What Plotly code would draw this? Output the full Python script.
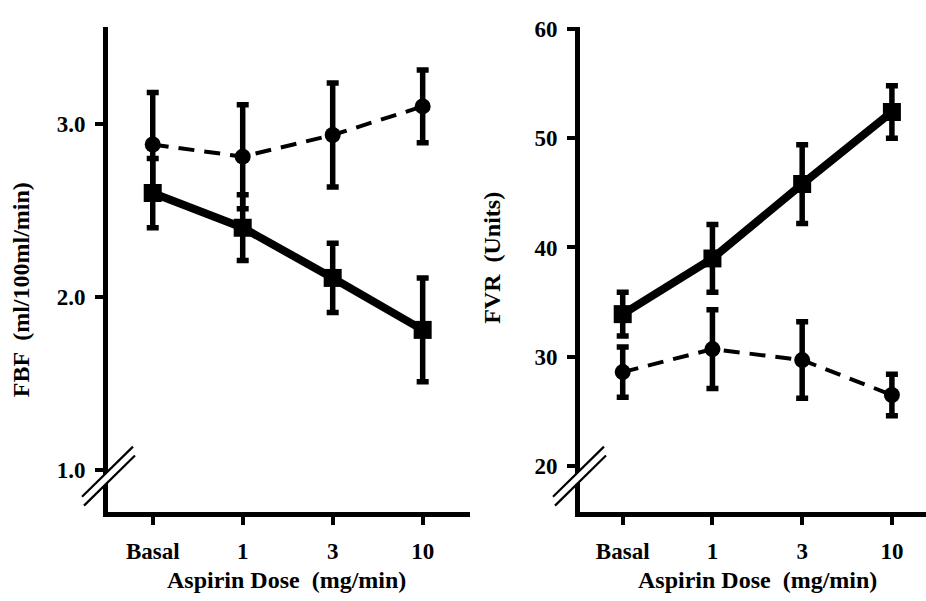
import plotly.graph_objects as go

W, H = 926, 601

categories = ["Basal", "1", "3", "10"]

# Left panel: FBF (ml/100ml/min)
fbf_solid = [2.60, 2.40, 2.11, 1.81]
fbf_solid_err = [0.20, 0.19, 0.20, 0.30]
fbf_dash = [2.88, 2.81, 2.935, 3.10]
fbf_dash_err = [0.30, 0.30, 0.30, 0.21]

# Right panel: FVR (Units)
fvr_solid = [33.9, 39.0, 45.8, 52.4]
fvr_solid_err = [2.0, 3.1, 3.6, 2.4]
fvr_dash = [28.6, 30.7, 29.7, 26.5]
fvr_dash_err = [2.3, 3.6, 3.5, 1.9]

left_ticks = [1.0, 2.0, 3.0]
left_ticktext = ["1.0", "2.0", "3.0"]
right_ticks = [20, 30, 40, 50, 60]

FONT = "Liberation Serif"
xs = list(range(len(categories)))


def px(x, y):
    return x / W, 1 - y / H


def add_series(fig, y, err, dash, xa, ya):
    if dash:
        line = dict(color="black", width=4, dash="16px,10px")
        marker = dict(symbol="circle", size=16, color="black")
    else:
        line = dict(color="black", width=8)
        marker = dict(symbol="square", size=18, color="black")
    fig.add_trace(go.Scatter(
        x=xs, y=y, mode="lines+markers", line=line, marker=marker,
        error_y=dict(type="data", array=err, visible=True, color="black",
                     thickness=5.5, width=6),
        xaxis=xa, yaxis=ya, showlegend=False, hoverinfo="skip"))


fig = go.Figure()
add_series(fig, fbf_dash, fbf_dash_err, True, "x", "y")
add_series(fig, fbf_solid, fbf_solid_err, False, "x", "y")
add_series(fig, fvr_dash, fvr_dash_err, True, "x2", "y2")
add_series(fig, fvr_solid, fvr_solid_err, False, "x2", "y2")

ydom = [(H - 511) / H, (H - 17) / H]
tickfont = dict(family=FONT, size=23, color="black", weight="bold")
axcommon = dict(showline=True, linecolor="black", linewidth=5, ticks="outside",
                ticklen=8, tickwidth=4, tickcolor="black", showgrid=False,
                zeroline=False, tickfont=tickfont)

fig.update_layout(
    width=W, height=H, margin=dict(l=0, r=0, t=0, b=0),
    paper_bgcolor="white", plot_bgcolor="white",
    xaxis=dict(domain=[108 / W, 470 / W], range=[-0.497, 3.526],
               tickvals=xs, ticktext=categories, anchor="y",
               ticklabelstandoff=6, **axcommon),
    yaxis=dict(domain=ydom, range=[0.756, 3.56], tickvals=left_ticks,
               ticktext=left_ticktext, anchor="x", ticklabelstandoff=5, **axcommon),
    xaxis2=dict(domain=[580 / W, 1.0], range=[-0.476, 3.38],
                tickvals=xs, ticktext=categories, anchor="y2",
                ticklabelstandoff=6, **axcommon),
    yaxis2=dict(domain=ydom, range=[15.75, 60.2], tickvals=right_ticks,
                anchor="x2", ticklabelstandoff=5, **axcommon),
)

titlefont = dict(family=FONT, size=24, color="black", weight="bold")
for (x, y, text, angle) in [
    (286, 580, "Aspirin Dose  (mg/min)", 0),
    (757, 580, "Aspirin Dose  (mg/min)", 0),
    (21, 285, "FBF  (ml/100ml/min)", -90),
    (492, 252, "FVR  (Units)", -90),
]:
    px_, py_ = px(x, y)
    fig.add_annotation(x=px_, y=py_, xref="paper", yref="paper", text=text,
                       showarrow=False, textangle=angle, font=titlefont,
                       xanchor="center", yanchor="middle")

# axis break marks
for ax in (106, 577):
    u0 = px(ax - 24, 495); u1 = px(ax + 27, 444)
    l0 = px(ax - 22, 504); l1 = px(ax + 29, 453)
    path = "M {} {} L {} {} L {} {} L {} {} Z".format(u0[0], u0[1], u1[0], u1[1], l1[0], l1[1], l0[0], l0[1])
    fig.add_shape(type="path", path=path, xref="paper", yref="paper",
                  fillcolor="white", line=dict(width=0), layer="above")
    for a, b in ((u0, u1), (l0, l1)):
        fig.add_shape(type="line", x0=a[0], y0=a[1], x1=b[0], y1=b[1],
                      xref="paper", yref="paper",
                      line=dict(color="black", width=2.2), layer="above")

fig.write_html("out.html", config={"displayModeBar": False},
               post_script="document.body.style.margin='0';")
